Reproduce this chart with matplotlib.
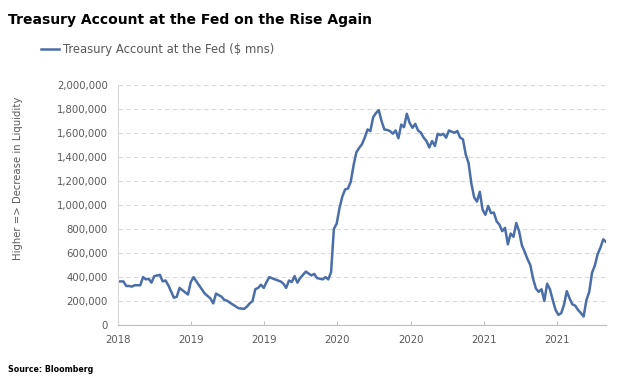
import numpy as np
import pandas as pd
import matplotlib
import matplotlib.pyplot as plt
import matplotlib.dates as mdates
from matplotlib.ticker import FuncFormatter, MultipleLocator

matplotlib.use('Agg')

# weeks since 2018-10-01 and the TGA balance ($ mns)
start = pd.Timestamp('2018-10-01')
week = [0, 2, 3, 4, 5, 6, 8, 9, 10, 11, 12, 13, 15, 16, 17, 18, 20, 21, 22, 23,
        25, 26, 27, 28, 31, 33, 34, 35, 37, 38, 39, 40, 42, 43, 45, 46, 47, 48, 49, 50,
        51, 52, 53, 54, 56, 58, 59, 60, 61, 62, 63, 64, 65, 67, 69, 70, 71, 73, 74, 75,
        76, 77, 78, 79, 80, 81, 82, 83, 84, 85, 86, 87, 88, 89, 90, 91, 92, 93, 94, 95,
        96, 97, 98, 99, 100, 101, 102, 103, 104, 105, 106, 107, 108, 109, 110, 111, 112, 113, 114, 115,
        116, 117, 118, 119, 120, 121, 122, 123, 124, 125, 126, 127, 128, 129, 130, 131, 132, 133, 134, 135,
        136, 137, 138, 139, 140, 141, 142, 143, 144, 145, 146, 147, 148, 149, 150, 151, 152, 153, 154, 155,
        156, 157, 158, 159, 160, 161, 162, 163, 164, 165, 166, 167, 168, 169, 170, 171, 172, 173, 174]
tga = [363, 363, 325, 325, 320, 331, 331, 399, 380, 385, 353, 407, 418, 363, 371, 331, 227, 235, 309, 290,
       254, 358, 399, 363, 262, 221, 180, 262, 235, 208, 202, 185, 155, 140, 134, 153, 180, 199, 298, 309,
       336, 309, 358, 399, 380, 363, 345, 309, 371, 358, 407, 353, 391, 445, 413, 426, 391, 380, 399, 380,
       440, 800, 845, 973, 1069, 1129, 1137, 1192, 1328, 1438, 1475, 1506, 1561, 1629, 1616, 1731, 1766, 1790, 1698, 1629,
       1625, 1616, 1594, 1621, 1556, 1670, 1648, 1760, 1684, 1643, 1676, 1621, 1602, 1561, 1533, 1479, 1533, 1492, 1593, 1582,
       1593, 1561, 1621, 1610, 1602, 1616, 1561, 1547, 1420, 1350, 1178, 1063, 1028, 1110, 960, 918, 992, 932, 937, 864,
       836, 782, 809, 672, 762, 735, 850, 782, 664, 610, 549, 500, 385, 304, 276, 298, 200, 344, 298, 208,
       126, 85, 98, 167, 282, 222, 172, 161, 126, 100, 71, 208, 276, 435, 495, 590, 645, 714, 692]

dates = start + pd.to_timedelta(np.array(week) * 7, unit='D')
values = np.array(tga) * 1000

fig = plt.figure(figsize=(6.3, 3.81), dpi=100)
ax = fig.add_axes([0.187, 0.147, 0.775, 0.63])

line_color = '#4a6ea8'
grey = '#595959'

ax.plot(dates, values, color=line_color, linewidth=1.8,
        label='Treasury Account at the Fed ($ mns)')

ax.set_ylim(0, 2000000)
ax.set_xlim(dates[0], dates[-1])
ax.yaxis.set_major_locator(MultipleLocator(200000))
ax.yaxis.set_major_formatter(FuncFormatter(lambda v, p: f'{int(v):,}'))
ax.xaxis.set_major_locator(mdates.MonthLocator(bymonth=[4, 10]))
ax.xaxis.set_major_formatter(mdates.DateFormatter('%Y'))

ax.grid(axis='y', linestyle=(0, (4, 3)), color='#d9d9d9', linewidth=0.8)
ax.set_axisbelow(True)
for side in ['top', 'right']:
    ax.spines[side].set_visible(False)
ax.spines['left'].set_color('#d9d9d9')
ax.spines['bottom'].set_color('#bfbfbf')
ax.tick_params(axis='y', length=0, labelsize=7.3, labelcolor=grey, pad=7)
ax.tick_params(axis='x', direction='in', length=3, color='#bfbfbf',
               labelsize=7.3, labelcolor=grey, pad=7)

fig.text(0.013, 0.965, 'Treasury Account at the Fed on the Rise Again',
         fontsize=10, fontweight='bold', va='top', ha='left')
fig.legend(loc='upper left', bbox_to_anchor=(0.048, 0.915), frameon=False,
           fontsize=8.4, labelcolor=grey, handlelength=1.6, handletextpad=0.3)
fig.text(0.028, 1 - 178 / 381, 'Higher => Decrease in Liquidity', rotation=90,
         fontsize=7.3, color=grey, ha='center', va='center')
fig.text(0.013, 1 - 369 / 381, 'Source: Bloomberg', fontsize=5.7,
         fontweight='bold', va='center', ha='left')

fig.savefig('out.png', dpi=100)
